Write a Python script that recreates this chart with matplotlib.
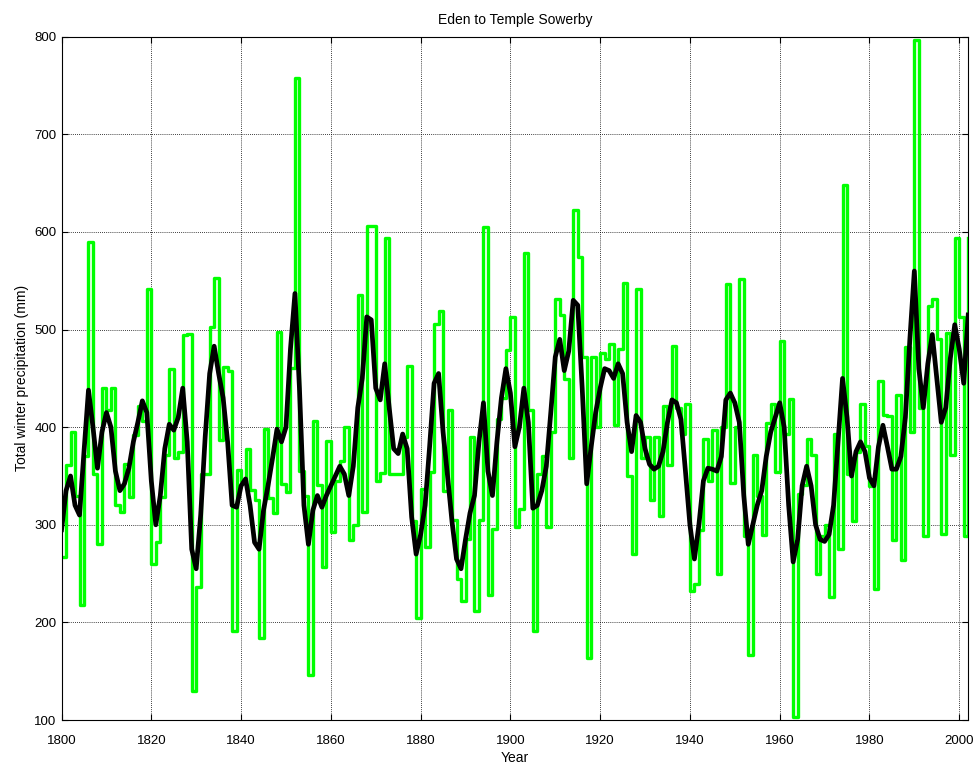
import numpy as np
import matplotlib
matplotlib.use("Agg")
import matplotlib.pyplot as plt

plt.rcParams.update({
    "font.family": ["Liberation Sans", "DejaVu Sans"],
    "font.size": 9.5,
})

# winter precipitation totals, one value per year from 1800
years = np.arange(1800, 2003)

annual_mm = [
    267, 361, 395, 330, 218, 370, 590, 352, 280, 440,   # 1800s
    418, 440, 320, 313, 362, 328, 392, 422, 406, 542,   # 1810s
    260, 282, 328, 372, 460, 368, 375, 494, 495, 130,   # 1820s
    236, 352, 352, 503, 553, 387, 462, 458, 191, 356,   # 1830s
    345, 378, 336, 325, 184, 398, 327, 312, 498, 342,   # 1840s
    334, 461, 758, 355, 330, 146, 406, 341, 257, 386,   # 1850s
    293, 345, 365, 400, 284, 300, 535, 313, 606, 606,   # 1860s
    345, 353, 594, 352, 352, 352, 390, 463, 304, 205,   # 1870s
    337, 277, 354, 506, 519, 335, 418, 305, 245, 222,   # 1880s
    285, 390, 212, 305, 605, 228, 296, 408, 430, 479,   # 1890s
    513, 298, 316, 578, 418, 191, 352, 370, 298, 395,   # 1900s
    531, 515, 449, 368, 623, 574, 472, 164, 472, 400,   # 1910s
    476, 470, 485, 402, 480, 548, 350, 270, 542, 368,   # 1920s
    390, 325, 390, 309, 422, 361, 483, 420, 393, 424,   # 1930s
    232, 239, 295, 388, 345, 397, 250, 400, 547, 343,   # 1940s
    400, 552, 289, 167, 372, 330, 290, 404, 424, 354,   # 1950s
    488, 393, 429, 103, 332, 341, 388, 372, 250, 289,   # 1960s
    300, 226, 393, 275, 648, 352, 304, 375, 424, 381,   # 1970s
    340, 234, 447, 413, 411, 284, 433, 264, 482, 395,   # 1980s
    797, 420, 289, 524, 531, 490, 291, 497, 372, 594,   # 1990s
    513, 289, 594,                                      # 2000-2002
]

# smoothed series
smooth_mm = [
    295, 335, 350, 320, 310, 375, 438, 400, 358, 395,
    415, 400, 355, 335, 342, 358, 385, 405, 427, 415,
    345, 300, 330, 378, 403, 397, 410, 440, 385, 275,
    255, 310, 390, 455, 483, 455, 430, 385, 320, 318,
    340, 347, 320, 282, 275, 315, 340, 368, 398, 385,
    400, 480, 537, 440, 320, 280, 315, 330, 318, 330,
    340, 350, 360, 352, 330, 360, 420, 450, 513, 510,
    440, 428, 465, 420, 378, 373, 393, 378, 308, 270,
    290, 320, 380, 445, 455, 395, 350, 303, 265, 255,
    285, 312, 330, 385, 425, 355, 330, 385, 430, 460,
    435, 380, 400, 440, 405, 317, 320, 335, 360, 415,
    472, 490, 458, 478, 530, 525, 440, 342, 380, 415,
    440, 460, 458, 450, 465, 455, 405, 375, 412, 405,
    378, 362, 357, 360, 375, 405, 428, 425, 408, 355,
    300, 265, 300, 345, 358, 357, 355, 370, 428, 435,
    425, 405, 330, 280, 300, 320, 335, 370, 395, 410,
    425, 400, 320, 262, 285, 340, 360, 340, 300, 285,
    283, 290, 320, 385, 450, 410, 350, 375, 385, 375,
    348, 340, 380, 402, 380, 357, 357, 370, 410, 490,
    560, 460, 420, 465, 495, 450, 405, 420, 470, 505,
    480, 445, 515,
]

fig = plt.figure(figsize=(9.77, 7.66), dpi=100)
ax = fig.add_axes([0.063, 0.060, 0.928, 0.892])

ax.step(years, annual_mm, where="post", color=(0, 1, 0), linewidth=2.4)
ax.plot(years, smooth_mm, color="black", linewidth=3.4)

ax.set_xlim(1800, 2002)
ax.set_ylim(100, 800)
ax.set_xticks(np.arange(1800, 2001, 20))
ax.set_yticks(np.arange(100, 801, 100))

ax.grid(True, color="black", linestyle=(0, (1, 1.5)), linewidth=0.6)
ax.tick_params(direction="in", length=4, top=True, right=True, labelsize=9.5)
ax.tick_params(axis="x", pad=11)
for s in ax.spines.values():
    s.set_linewidth(0.8)

ax.set_title("Eden to Temple Sowerby", fontsize=10, pad=9)
ax.set_xlabel("Year", fontsize=10, labelpad=3)
ax.set_ylabel("Total winter precipitation (mm)", fontsize=10, labelpad=4)

fig.savefig("out.png", dpi=100)
